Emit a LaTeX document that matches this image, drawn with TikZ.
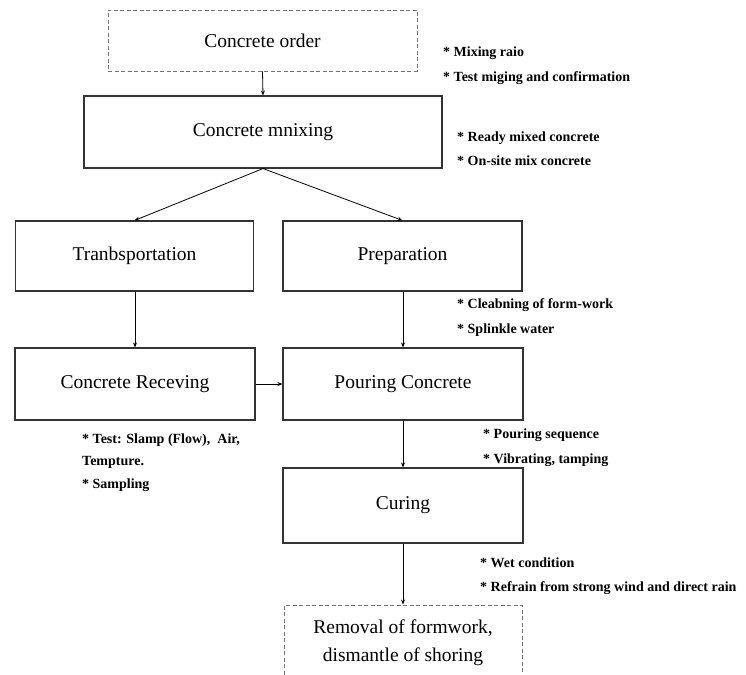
\documentclass[tikz,border=0pt]{standalone}
\usepackage{fontspec}
\setmainfont{Liberation Serif}
\usetikzlibrary{arrows.meta}
\begin{document}
\begin{tikzpicture}[x=1pt,y=-1pt,
  stepbox/.style={draw=black!80, line width=1.1pt, inner sep=0pt, align=center,
    font=\fontsize{19.5}{28}\selectfont},
  dashbox/.style={stepbox, draw=black!55, line width=0.9pt, dash pattern=on 4pt off 2.5pt},
  note/.style={anchor=west, inner sep=0pt, align=left,
    font=\fontsize{14}{24.5}\selectfont\bfseries},
  flow/.style={draw=black, line width=0.8pt, -{Stealth[length=5pt,width=4pt]}}]
\useasboundingbox (0,0) rectangle (746,674);
\clip (0,0) rectangle (746,674);
\node[dashbox, minimum width=309pt, minimum height=61pt] (order) at (262.5,40.5) {Concrete order};
\node[stepbox, minimum width=358pt, minimum height=72pt] (mix) at (263,132) {Concrete mnixing};
\node[stepbox, minimum width=238pt, minimum height=70pt] (trans) at (134.5,256) {Tranbsportation};
\node[stepbox, minimum width=239pt, minimum height=70pt] (prep) at (402.5,256) {Preparation};
\node[stepbox, minimum width=240pt, minimum height=72pt] (recv) at (135,384) {Concrete Receving};
\node[stepbox, minimum width=240pt, minimum height=72pt] (pour) at (403,384) {Pouring Concrete};
\node[stepbox, minimum width=240pt, minimum height=75pt] (cure) at (403,505.5) {Curing};
\node[dashbox, minimum width=238pt, minimum height=76pt] (remove) at (403,643) {Removal of formwork,\\dismantle of shoring};
\draw[flow] (order.south) -- (mix.north);
\draw[flow] (mix.south) -- (trans.north);
\draw[flow] (mix.south) -- (prep.north);
\draw[flow] (recv.north |- trans.south) -- (recv.north);
\draw[flow] (pour.north |- prep.south) -- (pour.north);
\draw[flow] (recv.east) -- (pour.west);
\draw[flow] (pour.south) -- (cure.north);
\draw[flow] (cure.south) -- (remove.north);
\node[note] (n1) at (443,65.5) {* Mixing raio\\* Test miging and confirmation};
\node[note] (n2) at (457,148.5) {* Ready mixed concrete\\* On-site mix concrete};
\node[note] (n3) at (457,317.5) {* Cleabning of form-work\\* Splinkle water};
\node[note, font=\fontsize{14}{22.5}\selectfont\bfseries] (n4) at (82,462.5) {* Test: Slamp (Flow),\ \ Air,\\Tempture.\\* Sampling};
\node[note] (n5) at (483,447.5) {* Pouring sequence\\* Vibrating, tamping};
\node[note] (n6) at (480,576) {* Wet condition\\* Refrain from strong wind and direct rain};
\end{tikzpicture}
\end{document}
